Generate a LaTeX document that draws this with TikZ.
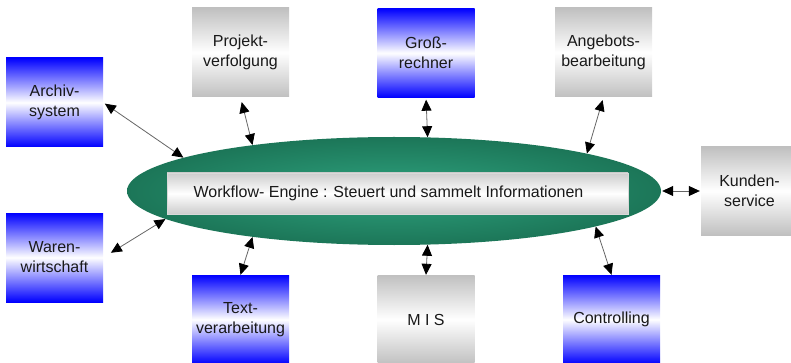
\documentclass[tikz,border=0pt]{standalone}
\usepackage{fontspec}
\setmainfont{Liberation Sans}
\usetikzlibrary{shapes.geometric,arrows.meta}
\definecolor{boxblue}{RGB}{0,0,255}
\definecolor{boxgray}{RGB}{192,192,192}
\definecolor{engineouter}{RGB}{28,118,88}
\definecolor{engineinner}{RGB}{46,162,126}

\begin{document}
\begin{tikzpicture}[x=1pt, y=-1pt,
    box/.style={rectangle, minimum width=97pt, minimum height=89pt, inner sep=0pt,
      align=center, text=black!90, font=\fontsize{16}{20}\selectfont},
    bluebox/.style={box, top color=boxblue, bottom color=boxblue, middle color=white},
    graybox/.style={box, top color=boxgray, bottom color=boxgray, middle color=white},
    link/.style={{Triangle[length=11pt,width=10pt,black]}-{Triangle[length=11pt,width=10pt,black]},
      draw=black!60, line width=0.8pt}]
    \useasboundingbox (0,0) rectangle (791,363);

    % Engine
    \node[ellipse, minimum width=534pt, minimum height=108pt, inner sep=0pt,
      inner color=engineinner, outer color=engineouter] (engine) at (394,191) {};
    \node[rectangle, minimum width=461pt, minimum height=41pt, inner sep=0pt,
      top color=boxgray!80, bottom color=boxgray!80, middle color=white, draw=black!15,
      text=black!90, font=\fontsize{16}{20}\selectfont] (info) at (397.5,193.5)
      {Workflow- Engine : Steuert und sammelt Informationen\hspace*{18pt}};

    % Nodes
    \node[bluebox] (archiv) at (54.5,102.5) {Archiv-\\system};
    \node[bluebox] (waren) at (54.5,257.5) {Waren-\\wirtschaft};
    \node[graybox] (projekt) at (240.5,52.5) {Projekt-\\verfolgung};
    \node[bluebox] (gross) at (426,53) {Groß-\\rechner};
    \node[graybox] (angebot) at (603.5,52.5) {Angebots-\\bearbeitung};
    \node[graybox, minimum height=88pt] (kunden) at (749.5,191) {Kunden-\\service};
    \node[bluebox] (textv) at (240.5,319.5) {Text-\\verarbeitung};
    \node[graybox] (mis) at (426,319.5) {M I S};
    \node[bluebox] (controlling) at (611.5,319.5) {Controlling};

    % Connection
    \draw[link, shorten <=2pt] (archiv.east) -- (engine.171);
    \draw[link, shorten <=9pt] (waren.east) -- (engine.187);
    \draw[link, shorten <=5pt] (projekt.south) -- (engine.162);
    \draw[link, shorten <=2pt] (gross.south) -- (engine.58);
    \draw[link, shorten <=3pt] (angebot.south) -- (engine.11);
    \draw[link, shorten <=1pt, shorten >=1pt] (engine.east) -- (kunden.west);
    \draw[link] (engine.198) -- (textv.north);
    \draw[link] (engine.302) -- (mis.north);
    \draw[link] (engine.350) -- (controlling.north);
  \end{tikzpicture}
\end{document}
